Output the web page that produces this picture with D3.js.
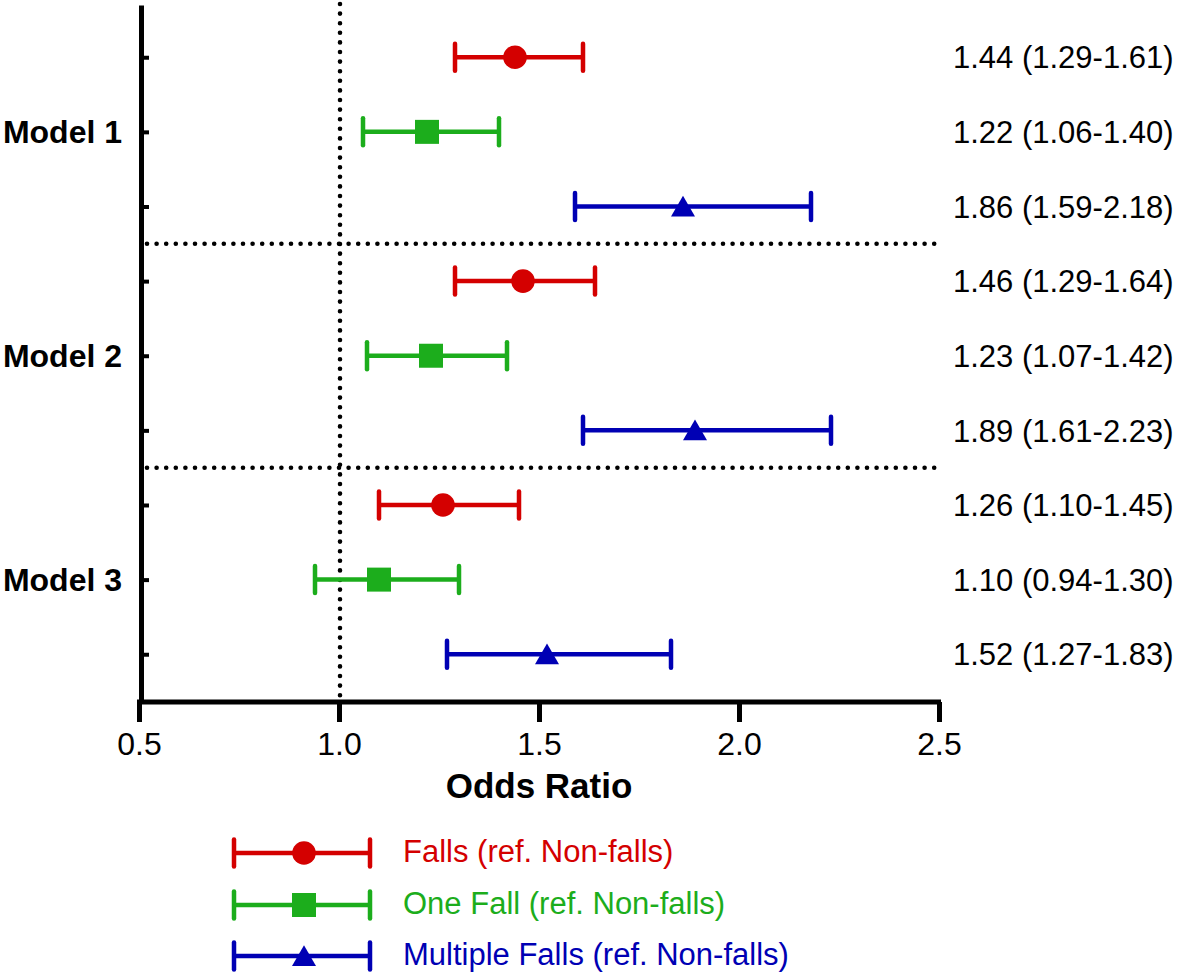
<!DOCTYPE html>
<html><head><meta charset="utf-8">
<script src="https://cdn.jsdelivr.net/npm/d3@7"></script>
<style>body{margin:0;background:#fff}svg{display:block}text{font-family:"Liberation Sans",Arial,Helvetica,sans-serif}</style>
</head><body><svg id="c" width="1180" height="976"></svg>
<script>
const models = ["Model 1", "Model 2", "Model 3"];
const groups = ["Falls (ref. Non-falls)", "One Fall (ref. Non-falls)", "Multiple Falls (ref. Non-falls)"];
const colors = ["#d40000", "#1cad1c", "#0000b4"];
const shapes = ["circle", "square", "triangle"];
// rows in order: Model 1 (Falls, One Fall, Multiple), Model 2 (...), Model 3 (...)
const orValues = [1.44, 1.22, 1.86, 1.46, 1.23, 1.89, 1.26, 1.10, 1.52];
const ciLow    = [1.29, 1.06, 1.59, 1.29, 1.07, 1.61, 1.10, 0.94, 1.27];
const ciHigh   = [1.61, 1.40, 2.18, 1.64, 1.42, 2.23, 1.45, 1.30, 1.83];
const rowLabels = ["1.44 (1.29-1.61)","1.22 (1.06-1.40)","1.86 (1.59-2.18)",
                   "1.46 (1.29-1.64)","1.23 (1.07-1.42)","1.89 (1.61-2.23)",
                   "1.26 (1.10-1.45)","1.10 (0.94-1.30)","1.52 (1.27-1.83)"];
const xTicks = [0.5, 1.0, 1.5, 2.0, 2.5];

const svg = d3.select("#c");
const x = d3.scaleLinear().domain([0.5, 2.5]).range([139, 939]);
const y = d3.scaleLinear().domain([-0.7, 8.64]).range([5, 702]);
const rows = d3.range(orValues.length).map(i => ({
  i, g: i % 3, m: Math.floor(i / 3), or: orValues[i], lo: ciLow[i], hi: ciHigh[i], label: rowLabels[i]
}));

const sym = {
  circle: d3.symbol().type(d3.symbolCircle).size(Math.PI * 11.8 * 11.8),
  square: d3.symbol().type(d3.symbolSquare).size(24 * 24),
  triangle: d3.symbol().type(d3.symbolTriangle).size(24 * 24 * Math.sqrt(3) / 4)
};
function markerPath(s) { return sym[s](); }

// reference lines (dotted)
const dotted = svg.append("g").attr("stroke", "#000").attr("stroke-width", 4.6)
  .attr("stroke-linecap", "round").attr("stroke-dasharray", "0 9.6").attr("fill", "none");
dotted.append("line").attr("x1", x(1) + 1).attr("x2", x(1) + 1).attr("y1", 4).attr("y2", 697);
[2.5, 5.5].forEach(v => {
  dotted.append("line").attr("x1", 147).attr("x2", x(2.5)).attr("y1", y(v)).attr("y2", y(v));
});

// y axis (ticks pointing right)
const yAxis = svg.append("g").attr("transform", "translate(141,0)")
  .call(d3.axisRight(y).tickValues(d3.range(9)).tickFormat("").tickSize(8).tickSizeOuter(0));
yAxis.select(".domain").attr("stroke-width", 5);
yAxis.selectAll(".tick line").attr("stroke-width", 4);

// x axis
const xAxis = svg.append("g").attr("transform", "translate(0,702)")
  .call(d3.axisBottom(x).tickValues(xTicks).tickFormat(d3.format(".1f")).tickSize(20).tickSizeOuter(0).tickPadding(10));
xAxis.select(".domain").attr("stroke-width", 5).attr("d", `M${x(0.5) - 2},0H${x(2.5) + 2}`);
xAxis.selectAll(".tick line").attr("stroke-width", 5);
xAxis.selectAll(".tick text").attr("font-size", 32).attr("fill", "#000")
  .attr("font-family", "'Liberation Sans',Arial,sans-serif");
svg.append("text").attr("x", x(1.5)).attr("y", 798).attr("text-anchor", "middle")
  .attr("font-size", 35).attr("font-weight", "bold").text("Odds Ratio");

// model labels
svg.append("g").selectAll("text").data(models).join("text")
  .attr("x", 122).attr("y", (d, i) => y(i * 3 + 1)).attr("dy", "0.36em")
  .attr("text-anchor", "end").attr("font-size", 32).attr("font-weight", "bold").text(d => d);

// error bars
const capH = 13.5;
const bars = svg.append("g").selectAll("g").data(rows).join("g")
  .attr("stroke", d => colors[d.g]).attr("fill", d => colors[d.g]);
bars.append("line").attr("x1", d => x(d.lo)).attr("x2", d => x(d.hi))
  .attr("y1", d => y(d.i)).attr("y2", d => y(d.i)).attr("stroke-width", 4.5);
bars.append("line").attr("x1", d => x(d.lo)).attr("x2", d => x(d.lo))
  .attr("y1", d => y(d.i) - capH).attr("y2", d => y(d.i) + capH).attr("stroke-width", 4.5).attr("stroke-linecap", "round");
bars.append("line").attr("x1", d => x(d.hi)).attr("x2", d => x(d.hi))
  .attr("y1", d => y(d.i) - capH).attr("y2", d => y(d.i) + capH).attr("stroke-width", 4.5).attr("stroke-linecap", "round");
bars.append("path").attr("d", d => markerPath(shapes[d.g])).attr("stroke", "none")
  .attr("transform", d => `translate(${x(d.or)},${y(d.i) + (d.g === 2 ? 3 : 0)})`);

// right labels
svg.append("g").selectAll("text").data(rows).join("text")
  .attr("x", 953).attr("y", d => y(d.i)).attr("dy", "0.36em")
  .attr("font-size", 31).attr("fill", "#000").text(d => d.label);

// legend
const legY = [853, 905, 956];
const leg = svg.append("g").selectAll("g").data(groups).join("g")
  .attr("transform", (d, i) => `translate(0,${legY[i]})`)
  .attr("stroke", (d, i) => colors[i]).attr("fill", (d, i) => colors[i]);
leg.append("line").attr("x1", 234).attr("x2", 370).attr("stroke-width", 4.5);
leg.append("line").attr("x1", 234).attr("x2", 234).attr("y1", -capH).attr("y2", capH).attr("stroke-width", 4.5).attr("stroke-linecap", "round");
leg.append("line").attr("x1", 370).attr("x2", 370).attr("y1", -capH).attr("y2", capH).attr("stroke-width", 4.5).attr("stroke-linecap", "round");
leg.append("path").attr("d", (d, i) => markerPath(shapes[i])).attr("stroke", "none")
  .attr("transform", (d, i) => `translate(304,${i === 2 ? 3 : 0})`);
leg.append("text").attr("x", 403).attr("dy", "0.3em").attr("stroke", "none")
  .attr("font-size", 31).text(d => d);
</script></body></html>
